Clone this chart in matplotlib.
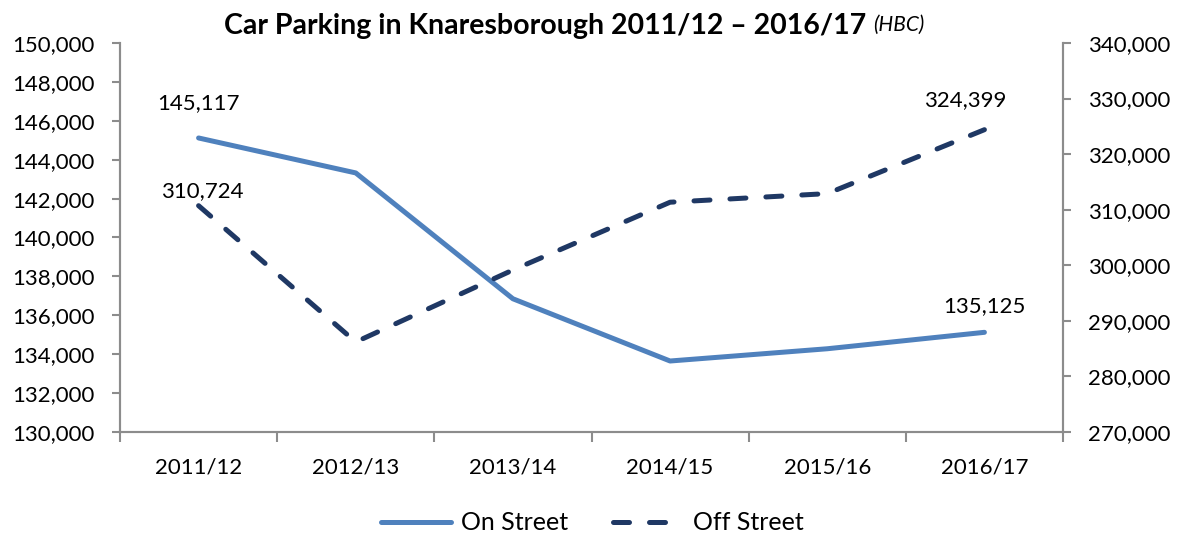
import matplotlib.pyplot as plt
import numpy as np
from matplotlib.ticker import FuncFormatter, MultipleLocator

plt.rcParams["font.family"] = ["Lato", "DejaVu Sans"]

# data
years = ["2011/12", "2012/13", "2013/14", "2014/15", "2015/16", "2016/17"]
on_street = [145117, 143320, 136850, 133650, 134280, 135125]
off_street = [310724, 286200, 299150, 311350, 312900, 324399]

blue = "#4F81BD"
navy = "#1F3864"
grey = "#8C8C8C"
fs = 16

fig = plt.figure(figsize=(11.84, 5.41), dpi=100)
ax = fig.add_axes([120 / 1184, 1 - 432 / 541, 943 / 1184, 389 / 541])
ax2 = ax.twinx()

x = np.arange(len(years)) + 0.5
ax.plot(x, on_street, color=blue, lw=3.6, solid_capstyle="round", label="On Street")
ax2.plot(x, off_street, color=navy, lw=3.6, dashes=(3.2, 4.0), dash_capstyle="round",
         label="Off Street")

ax.set_xlim(0, len(years))
ax.set_ylim(130000, 150000)
ax2.set_ylim(270000, 340000)
ax.yaxis.set_major_locator(MultipleLocator(2000))
ax2.yaxis.set_major_locator(MultipleLocator(10000))
fmt = FuncFormatter(lambda v, p: f"{v:,.0f}")
ax.yaxis.set_major_formatter(fmt)
ax2.yaxis.set_major_formatter(fmt)

# category ticks between groups, labels at centres
ax.set_xticks(np.arange(len(years) + 1))
ax.set_xticklabels([])
ax.set_xticks(x, minor=True)
ax.set_xticklabels(years, minor=True)
ax.tick_params(axis="x", which="major", length=7, color=grey, width=1.5)
ax.tick_params(axis="x", which="minor", length=0, pad=18, labelsize=fs)
ax.tick_params(axis="y", length=6, color=grey, width=1.5, labelsize=fs, pad=12)
ax2.tick_params(axis="y", length=6, color=grey, width=1.5, labelsize=fs, pad=12)

for a in (ax, ax2):
    a.spines["top"].set_visible(False)
    for s in ("left", "right", "bottom"):
        a.spines[s].set_color(grey)
        a.spines[s].set_linewidth(1.5)

# data labels
ax.annotate(f"{on_street[0]:,}", (x[0], on_street[0]), xytext=(0, 18),
            textcoords="offset points", ha="center", va="bottom", fontsize=fs)
ax.annotate(f"{on_street[-1]:,}", (x[-1], on_street[-1]), xytext=(0, 12),
            textcoords="offset points", ha="center", va="bottom", fontsize=fs)
ax2.annotate(f"{off_street[0]:,}", (x[0], off_street[0]), xytext=(3, 3),
             textcoords="offset points", ha="center", va="bottom", fontsize=fs)
ax2.annotate(f"{off_street[-1]:,}", (x[-1], off_street[-1]), xytext=(-14, 14),
             textcoords="offset points", ha="center", va="bottom", fontsize=fs)

# title with the smaller italic source tag after it
title = fig.text(545 / 1184, 1 - 26 / 541, "Car Parking in Knaresborough 2011/12 \u2013 2016/17",
                 ha="center", va="center", fontsize=20.5, fontweight="bold")
ax.annotate("(HBC)", xy=(1, 0), xycoords=title, xytext=(5, 3), textcoords="offset points",
            ha="left", va="bottom", fontsize=15, style="italic", annotation_clip=False)

h1, l1 = ax.get_legend_handles_labels()
h2, l2 = ax2.get_legend_handles_labels()
fig.legend(h1 + h2, l1 + l2, loc="center", bbox_to_anchor=(0.5, 1 - 523 / 541), ncol=2,
           frameon=False, fontsize=18, handlelength=2.8, columnspacing=1.8,
           handletextpad=0.4)

fig.savefig("out.png", dpi=100)
